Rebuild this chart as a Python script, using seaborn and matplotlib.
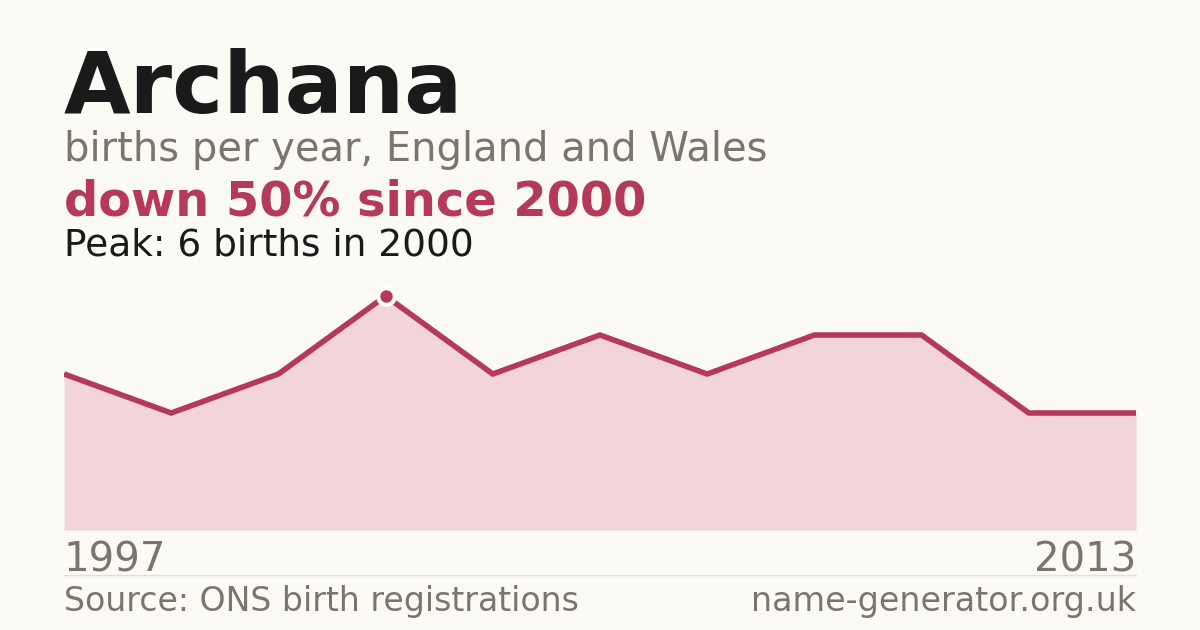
import matplotlib
matplotlib.use("Agg")
import matplotlib.pyplot as plt
import seaborn as sns
import pandas as pd

# -------------------------
# Data
# -------------------------
name = "Archana"
births = [4, 3, 4, 6, 4, 5, 4, 5, 5, 3, 3]
first_year = "1997"
last_year = "2013"
peak_year = "2000"

BG = "#fbfaf5"
RED = "#b5395a"
FILL = "#f2d5da"
DARK = "#1a1a1a"
GREY = "#7a766e"

df = pd.DataFrame({"idx": range(len(births)), "births": births})
peak_i = births.index(max(births))

sns.set_theme(style="white")
plt.rcParams["font.family"] = ["DejaVu Sans"]

W, H = 1200, 630
fig = plt.figure(figsize=(12, 6.3), dpi=100, facecolor=BG)

def fy(px):
    return 1 - px / H

# plot area: x 64..1136, baseline 530, value 6 at 296
ax = fig.add_axes([64 / W, fy(530), (1136 - 64) / W, (530 - 296) / H])
ax.set_facecolor(BG)
ax.fill_between(df["idx"], df["births"], 0, color=FILL, linewidth=0)
sns.lineplot(data=df, x="idx", y="births", ax=ax, color=RED, linewidth=4,
             solid_joinstyle="miter", solid_capstyle="butt")
ax.plot([peak_i], [births[peak_i]], marker="o", markersize=12, color=RED,
        markeredgecolor="white", markeredgewidth=3, clip_on=False, zorder=5)
ax.set_xlim(0, len(births) - 1)
ax.set_ylim(0, max(births))
ax.set_axis_off()

# header texts
fig.text(64 / W, fy(113), name, fontsize=62, fontweight="bold", color=DARK, va="baseline")
fig.text(64 / W, fy(161), "births per year, England and Wales", fontsize=28.8, color=GREY, va="baseline")
drop = round((births[peak_i] - births[-1]) / births[peak_i] * 100)
fig.text(64 / W, fy(215), f"down {drop}% since {peak_year}", fontsize=34.5, fontweight="bold",
         color=RED, va="baseline")
fig.text(64 / W, fy(255), f"Peak: {max(births)} births in {peak_year}", fontsize=27,
         color=DARK, va="baseline")

# axis end labels
fig.text(64 / W, fy(571), first_year, fontsize=29, color=GREY, va="baseline", ha="left")
fig.text(1136 / W, fy(571), last_year, fontsize=29, color=GREY, va="baseline", ha="right")

# separator
fig.add_artist(plt.Line2D([64 / W, 1136 / W], [fy(574.5), fy(574.5)], color="#e3e0d8", linewidth=1))

# footer
fig.text(64 / W, fy(611), "Source: ONS birth registrations", fontsize=23.9, color=GREY, va="baseline")
fig.text(1136 / W, fy(611), "name-generator.org.uk", fontsize=24, color=GREY, va="baseline", ha="right")

fig.savefig("out.png", dpi=100, facecolor=BG)
